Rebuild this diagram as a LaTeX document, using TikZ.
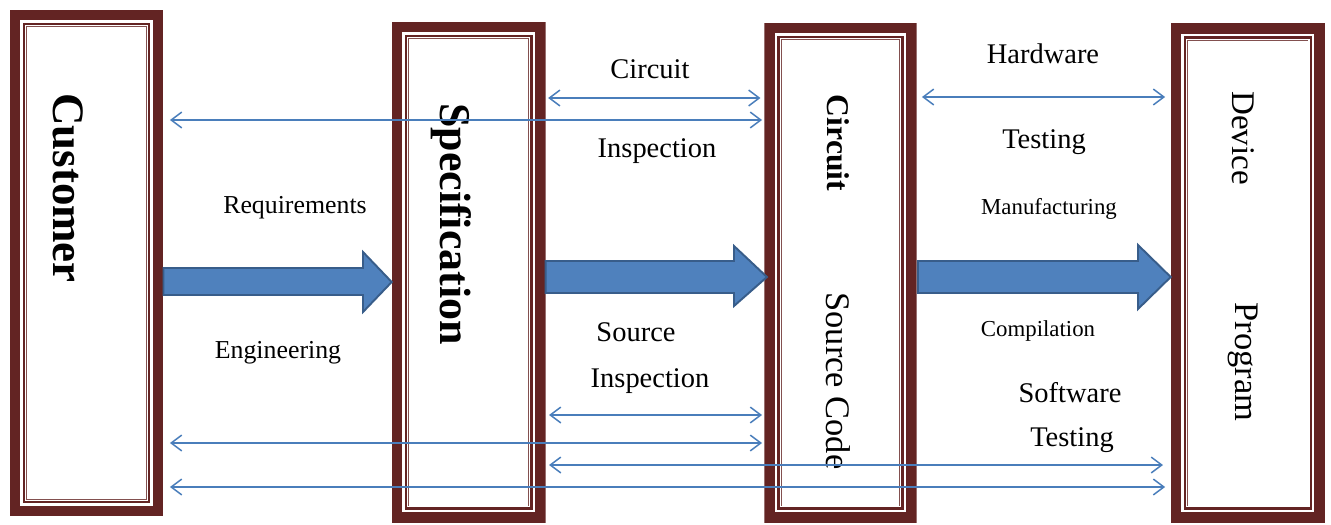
\documentclass[tikz,border=0pt]{standalone}
\usepackage{fontspec}
\setmainfont{Liberation Serif}
\usetikzlibrary{arrows.meta}
\definecolor{boxred}{HTML}{632423}
\definecolor{blockfill}{HTML}{4F81BD}
\definecolor{blockline}{HTML}{385D8A}
\definecolor{thinline}{HTML}{4A7EBB}
\newcommand\insetrect[2]{\fill[#1] ([shift={(#2,-#2)}]path picture bounding box.north west) rectangle ([shift={(-#2,#2)}]path picture bounding box.south east);}
\tikzset{
  framebox/.style={rectangle, inner sep=0pt, outer sep=0pt,
    path picture={
      \insetrect{boxred}{0pt}
      \insetrect{white}{6.0pt}
      \insetrect{boxred}{7.4pt}
      \insetrect{white}{8.8pt}
      \insetrect{boxred!80}{9.4pt}
      \insetrect{white}{9.9pt}
    }},
  blockarrow/.style={fill=blockfill, draw=blockline, line width=1.1pt, line join=miter},
  thinarrow/.style={draw=thinline, line width=0.85pt,
    arrows={Straight Barb[length=6pt,width=9pt]-Straight Barb[length=6pt,width=9pt]}},
  biglbl/.style={inner sep=0pt, font=\fontsize{16.2}{19}\selectfont},
  midlbl/.style={inner sep=0pt, font=\fontsize{14.7}{17}\selectfont},
  smalllbl/.style={inner sep=0pt, font=\fontsize{13}{16}\selectfont},
  boxlbl/.style={inner sep=0pt, rotate=-90},
}
\begin{document}
\begin{tikzpicture}[x=0.02cm,y=-0.02cm]
\useasboundingbox (0,0) rectangle (1331,524);
% boxes
\node[framebox, minimum width=3.08cm, minimum height=10.14cm] (cust) at (86.5,263) {};
\node[framebox, minimum width=3.08cm, minimum height=10.026cm] (spec) at (468.7,272.35) {};
\node[framebox, minimum width=3.048cm, minimum height=10.006cm] (circ) at (840.5,272.85) {};
\node[framebox, minimum width=3.086cm, minimum height=9.994cm] (dev) at (1247.85,273.15) {};
% box labels
\node[boxlbl, font=\fontsize{25.6}{30}\selectfont\bfseries] (custlbl) at (68,188) {Customer};
\node[boxlbl, font=\fontsize{25}{30}\selectfont\bfseries] (speclbl) at (451,224) {Specification};
\node[boxlbl, font=\fontsize{18}{22}\selectfont\bfseries] (circlbl) at (838,143) {Circuit};
\node[boxlbl, font=\fontsize{19.6}{23}\selectfont] (srclbl) at (838,381) {Source Code};
\node[boxlbl, font=\fontsize{18.8}{22}\selectfont] (devlbl) at (1243,138) {Device};
\node[boxlbl, font=\fontsize{19.6}{23}\selectfont] (proglbl) at (1243,362) {Program};
% block arrows
\draw[blockarrow] (cust.east |- 0,268) -- (363,268) -- (363,252) -- (spec.west |- 0,282)
  -- (363,312) -- (363,295) -- (cust.east |- 0,295) -- cycle;
\draw[blockarrow] (spec.east |- 0,261) -- (734,261) -- (734,246) -- ([xshift=1.5pt]circ.west |- 0,277)
  -- (734,306) -- (734,293) -- (spec.east |- 0,293) -- cycle;
\draw[blockarrow] ([xshift=0.7pt]circ.east |- 0,261) -- (1138,261) -- (1138,245) -- (dev.west |- 0,277)
  -- (1138,309) -- (1138,293) -- ([xshift=0.7pt]circ.east |- 0,293) -- cycle;
% thin double arrows
\draw[thinarrow, shorten <=1.4pt, shorten >=2.2pt] (spec.east |- 0,98) -- (circ.west |- 0,98);
\draw[thinarrow, shorten <=3.7pt, shorten >=1.3pt] (cust.east |- 0,120) -- (circ.west |- 0,120);
\draw[thinarrow, shorten <=3.0pt, shorten >=3.2pt] (circ.east |- 0,97) -- (dev.west |- 0,97);
\draw[thinarrow, shorten <=1.9pt, shorten >=1.3pt] (spec.east |- 0,415) -- (circ.west |- 0,415);
\draw[thinarrow, shorten <=3.7pt, shorten >=1.3pt] (cust.east |- 0,443) -- (circ.west |- 0,443);
\draw[thinarrow, shorten <=1.9pt, shorten >=4.4pt] (spec.east |- 0,465) -- (dev.west |- 0,465);
\draw[thinarrow, shorten <=3.7pt, shorten >=3.2pt] (cust.east |- 0,487) -- (dev.west |- 0,487);
% labels
\node[biglbl] (l1) at (650,69) {Circuit};
\node[biglbl] (l2) at (657,151) {Inspection};
\node[biglbl] (l3) at (1043,54) {Hardware};
\node[biglbl] (l4) at (1044,142) {Testing};
\node[smalllbl] (l5) at (1049,209) {Manufacturing};
\node[midlbl] (l6) at (295,208) {Requirements};
\node[midlbl] (l7) at (278,353) {Engineering};
\node[biglbl] (l8) at (636,332) {Source};
\node[biglbl] (l9) at (650,381) {Inspection};
\node[smalllbl] (l10) at (1038,331) {Compilation};
\node[biglbl] (l11) at (1070,393) {Software};
\node[biglbl] (l12) at (1072,440) {Testing};
\end{tikzpicture}
\end{document}
